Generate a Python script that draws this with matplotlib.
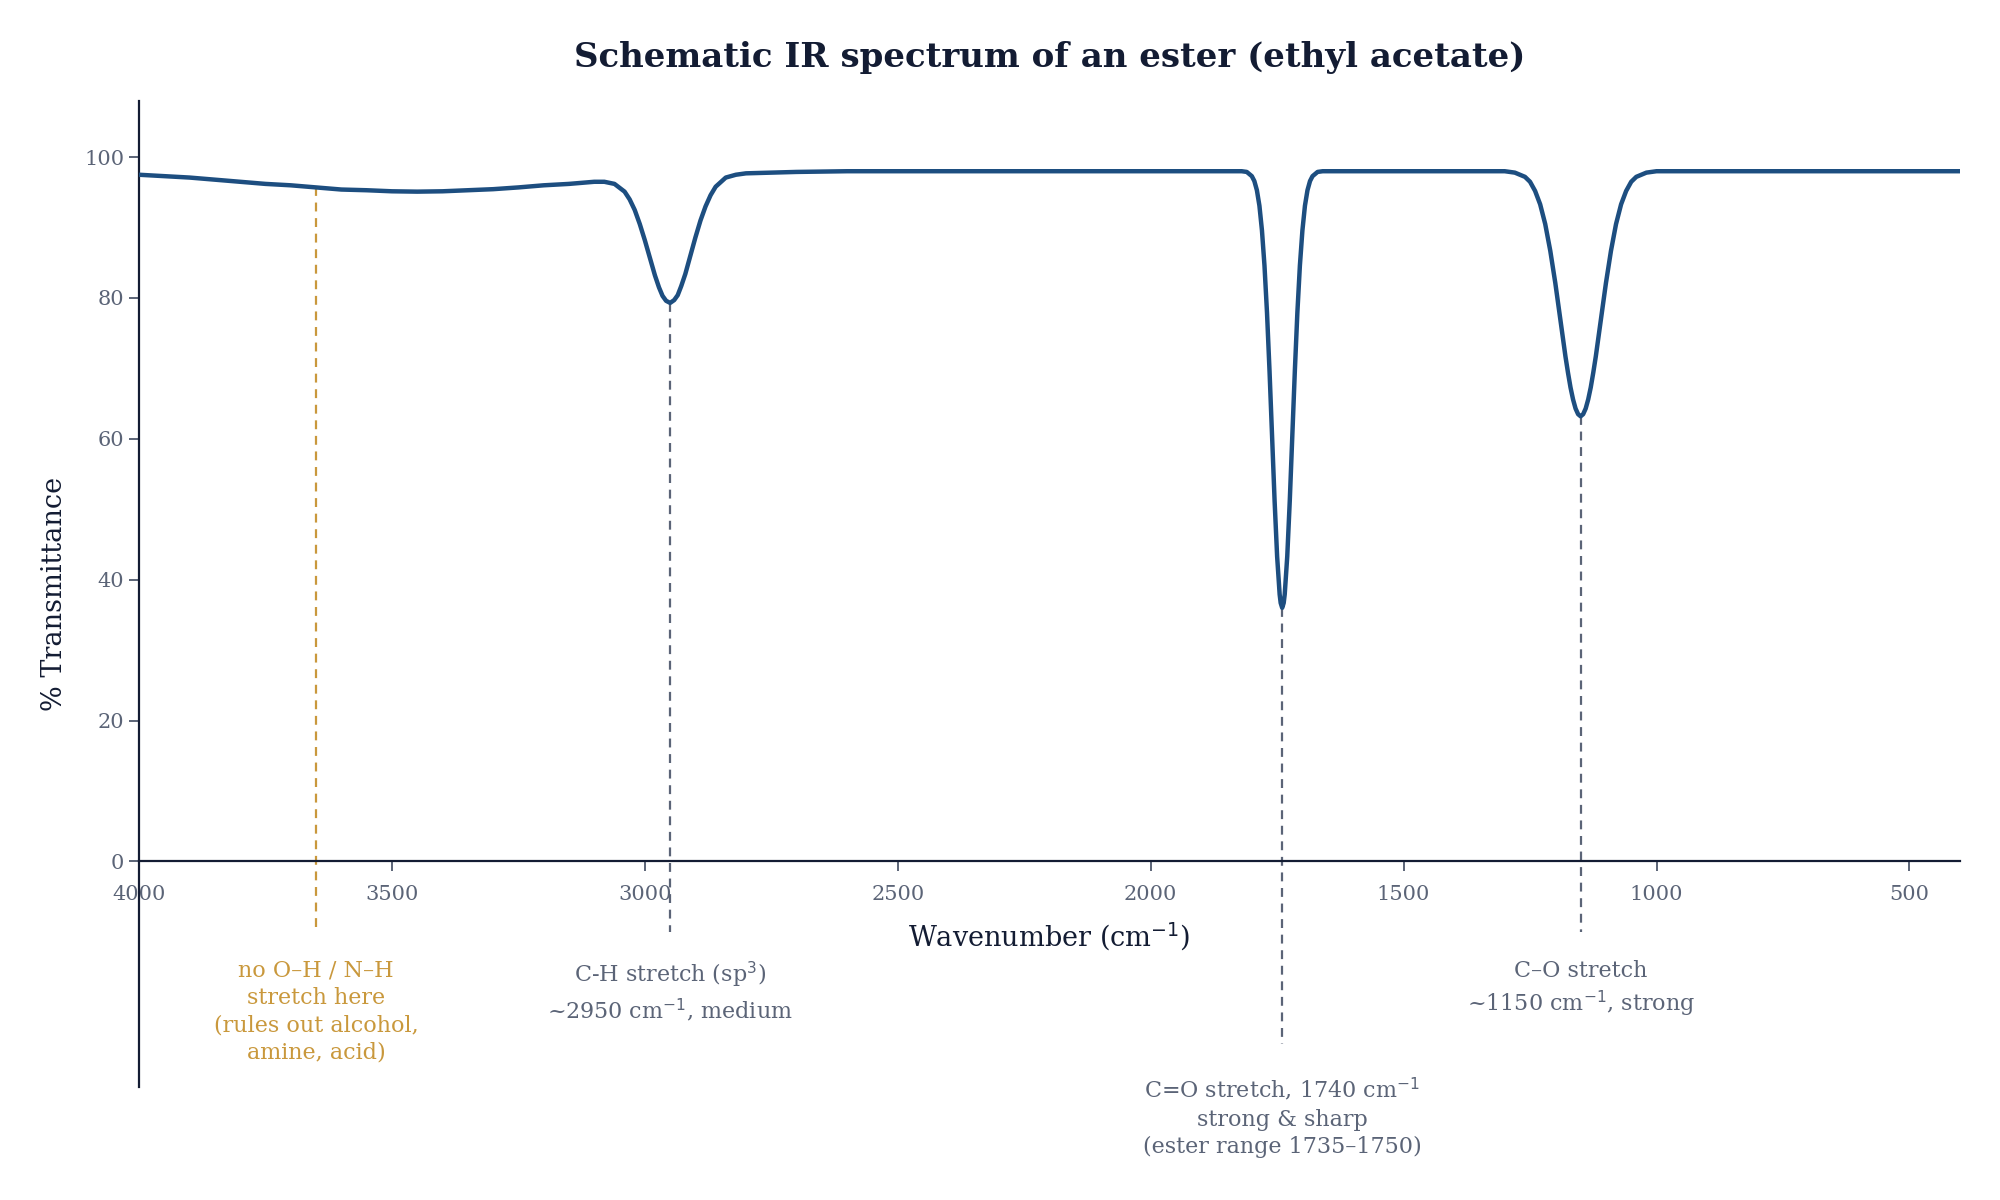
import numpy as np
import matplotlib.pyplot as plt

# Spectrum (wavenumber in cm-1, % transmittance)
wavenumber = [4000, 3950, 3900, 3850, 3800, 3750, 3700, 3650, 3600, 3550,
              3500, 3450, 3400, 3350, 3300, 3250, 3200, 3150, 3100,
              3080, 3060, 3040, 3030, 3020, 3010, 3000, 2990, 2980, 2972,
              2965, 2958, 2950, 2942, 2935, 2928, 2920, 2910, 2900, 2890,
              2880, 2870, 2860, 2840, 2820, 2800, 2700, 2600, 2400,
              1820, 1810, 1800, 1795, 1790, 1785, 1780, 1775, 1770, 1765,
              1760, 1755, 1750, 1745, 1743, 1740, 1737, 1735, 1730, 1725,
              1720, 1715, 1710, 1705, 1700, 1695, 1690, 1685, 1680, 1670,
              1660,
              1300, 1280, 1260, 1250, 1240, 1230, 1220, 1210, 1200, 1190,
              1180, 1175, 1170, 1165, 1160, 1155, 1150, 1145, 1140, 1135,
              1130, 1125, 1120, 1110, 1100, 1090, 1080, 1070, 1060, 1050,
              1040, 1020, 1000, 400]
transmittance = [97.5, 97.3, 97.1, 96.8, 96.5, 96.2, 96.0, 95.7, 95.4, 95.3,
                 95.15, 95.1, 95.15, 95.3, 95.45, 95.7, 96.0, 96.2, 96.5,
                 96.5, 96.2, 95.1, 94.0, 92.5, 90.5, 88.2, 85.7, 83.2, 81.5,
                 80.3, 79.6, 79.3, 79.7, 80.4, 81.7, 83.4, 86.0, 88.6, 91.0,
                 93.0, 94.6, 95.8, 97.1, 97.5, 97.7, 97.9, 98.0, 98.0,
                 98.0, 97.9, 97.3, 96.6, 95.3, 93.1, 89.6, 84.6, 77.9, 69.6,
                 60.4, 51.2, 43.3, 37.9, 36.7, 36.0, 36.7, 37.9, 43.3, 51.2,
                 60.4, 69.6, 77.9, 84.6, 89.6, 93.1, 95.3, 96.6, 97.3, 97.9,
                 98.0,
                 98.0, 97.8, 97.2, 96.5, 95.2, 93.3, 90.5, 86.7, 82.1, 76.9,
                 71.7, 69.4, 67.3, 65.6, 64.3, 63.5, 63.2, 63.5, 64.3, 65.6,
                 67.3, 69.4, 71.7, 76.9, 82.1, 86.7, 90.5, 93.3, 95.2, 96.5,
                 97.2, 97.8, 98.0, 98.0]

# Annotated bands
band_pos = [3650, 2950, 1740, 1150]
band_top = [95.7, 79.3, 36.0, 63.2]
band_end = [-10, -10, -26, -10]
band_text = ["no O\u2013H / N\u2013H\nstretch here\n(rules out alcohol,\namine, acid)",
             "C-H stretch (sp$^3$)\n~2950 cm$^{-1}$, medium",
             "C=O stretch, 1740 cm$^{-1}$\nstrong & sharp\n(ester range 1735\u20131750)",
             "C\u2013O stretch\n~1150 cm$^{-1}$, strong"]
band_text_y = [-14, -14, -30.5, -14]
band_color = ["#c9983c", "#5b6477", "#5b6477", "#5b6477"]

xticks = [4000, 3500, 3000, 2500, 2000, 1500, 1000, 500]
yticks = [0, 20, 40, 60, 80, 100]

navy = "#131c33"
gray = "#5b6477"
plt.rcParams['font.family'] = ['DejaVu Serif']

fig = plt.figure(figsize=(20, 12), dpi=100)
ax = fig.add_axes([0.0695, 0.0944, 0.9105, 0.8216])

ax.plot(wavenumber, transmittance, color="#1d4e80", lw=3.2, zorder=3,
        solid_joinstyle="round")

for x, top, end, txt, ty, c in zip(band_pos, band_top, band_end,
                                   band_text, band_text_y, band_color):
    ax.plot([x, x], [top, end], color=c, lw=1.6, ls=(0, (4, 3)),
            clip_on=False, zorder=2)
    ax.text(x, ty, txt, color=c, ha="center", va="top", fontsize=16,
            linespacing=1.3)

ax.set_xlim(4000, 400)
ax.set_ylim(-32, 108)
ax.set_xticks(xticks)
ax.set_yticks(yticks)

ax.spines['top'].set_visible(False)
ax.spines['right'].set_visible(False)
ax.spines['bottom'].set_position(('data', 0))
for s in ['left', 'bottom']:
    ax.spines[s].set_color(navy)
    ax.spines[s].set_linewidth(1.6)

ax.tick_params(axis='both', colors=gray, labelcolor=gray, labelsize=15,
               length=7, width=1.4)
ax.tick_params(axis='x', pad=10)

ax.set_xlabel("Wavenumber (cm$^{-1}$)", fontsize=19.5, color=navy)
ax.xaxis.set_label_coords(0.5, 0.168)
ax.set_ylabel("% Transmittance", fontsize=19.5, color=navy)
ax.yaxis.set_label_coords(-0.039, 0.5)

ax.set_title("Schematic IR spectrum of an ester (ethyl acetate)",
             fontsize=24.5, fontweight="bold", color=navy, pad=24)

fig.savefig("out.png", dpi=100, facecolor="white")
